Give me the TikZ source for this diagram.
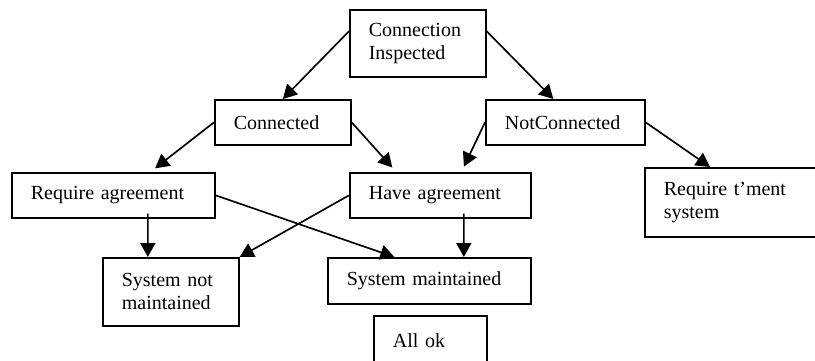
\documentclass[tikz,border=0pt]{standalone}
\usepackage{fontspec}
\setmainfont{Liberation Serif}
\usetikzlibrary{calc,arrows.meta}

\tikzset{
  box/.style={draw, line width=1pt, anchor=north west, align=left, inner xsep=11.4pt, inner ysep=0pt, font=\fontsize{12pt}{13.8pt}\selectfont},
  arr/.style={line width=1pt, -{Triangle[length=8.4pt,width=9pt]}}
}

\begin{document}
\begin{tikzpicture}[x=0.6pt,y=-0.6pt]
		%%%%% START %%%%%
		
		\path[use as bounding box, clip] (0,0) rectangle (815,360);
		
		\node[box, text width=58.8pt, minimum height=40.2pt] (ci) at (349,9) {Connection\\Inspected};
		
		\node[box, text width=58.8pt, minimum height=27pt] (con) at (214,99) {Connected};
		\node[box, text width=72.6pt, minimum height=27pt] (notc) at (485,99) {NotConnected};
		
		\node[box, text width=99pt, minimum height=27pt] (req) at (11,172) {Require agreement};
		\node[box, text width=85.8pt, minimum height=27pt] (have) at (349,172) {Have agreement};
		\node[box, text width=88.8pt, minimum height=41.4pt] (rt) at (644,167) {Require t'ment\\system};
		
		\node[box, text width=58.8pt, minimum height=40.8pt] (snm) at (102,257) {System not\\maintained};
		\node[box, text width=99pt, minimum height=27.6pt] (sm) at (327,257) {System maintained};
		\node[box, text width=45pt, minimum height=30pt] (ok) at (373,315) {All ok};
		
		\draw[arr] (ci.170) -- (con.north);
		\draw[arr] (ci.10) -- ($(notc.north)+(-12,0)$);
		
		\draw[arr, shorten >=3.6pt] (con.west) -- ($(req.north)+(37,0)$);
		\draw[arr, shorten >=3.6pt] (con.east) -- ($(have.north)+(-44,0)$);
		\draw[arr, shorten >=3.6pt] (notc.west) -- ($(have.north)+(21,0)$);
		\draw[arr] (notc.east) -- ($(rt.north west)+(66,0)$);
		
		\draw[arr] ($(req.south)+(34.5,-5)$) -- ($(snm.north)+(-23,0)$);
		\draw[arr] (req.east) -- ($(sm.north)+(-35,0)$);
		\draw[arr] (have.west) -- (snm.north east);
		\draw[arr] ($(have.south)+(23.5,-5)$) -- ($(sm.north)+(34.5,0)$);
		
		%%%%% END %%%%%
	\end{tikzpicture}
\end{document}
